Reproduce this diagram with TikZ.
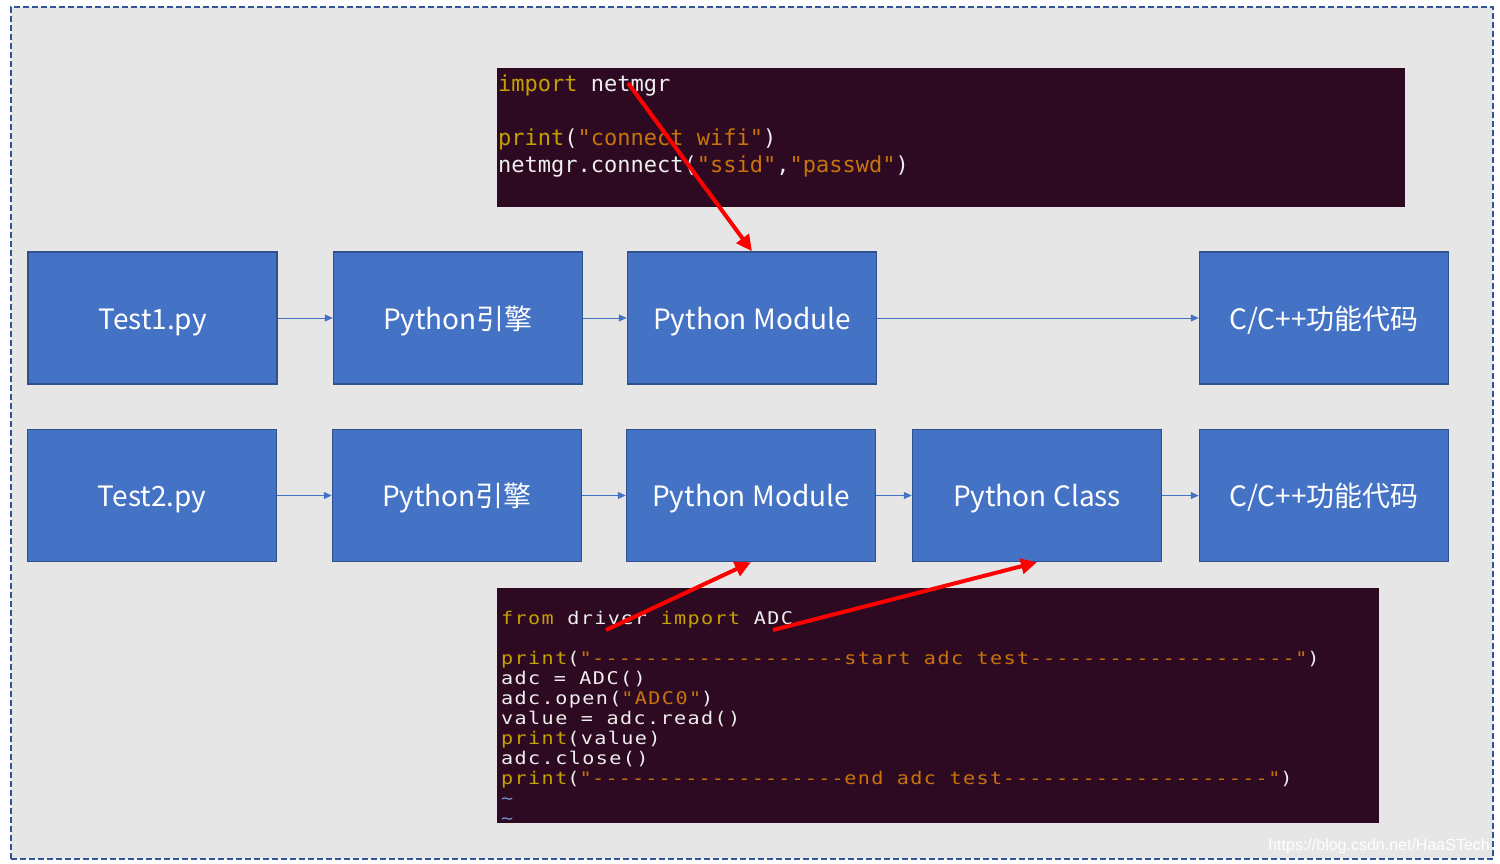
\documentclass[tikz,border=0pt]{standalone}
\usepackage{fontspec}
\usetikzlibrary{arrows.meta}
\newfontfamily\cjk{Noto Sans CJK SC}
\newfontfamily\codeA{DejaVu Sans Mono}
\newfontfamily\codeB[FakeStretch=1.15,LetterSpace=8]{DejaVu Sans Mono}
\newfontfamily\wmfont{Liberation Sans}
\definecolor{bg}{HTML}{E6E6E6}
\definecolor{frame}{HTML}{2F5597}
\definecolor{boxfill}{HTML}{4472C4}
\definecolor{boxline}{HTML}{2F528F}
\definecolor{term}{HTML}{2E0A22}
\definecolor{kw}{HTML}{C4A000}
\definecolor{st}{HTML}{C8740C}
\definecolor{tx}{HTML}{EEEEEC}
\definecolor{tl}{HTML}{6F97CE}
\newcommand\dsh[1]{\foreach \i in {1,...,#1}{\makebox[13.3pt][c]{-}}}
\newcommand\kw[1]{\textcolor{kw}{#1}}
\newcommand\st[1]{\textcolor{st}{#1}}
\begin{document}
\begin{tikzpicture}[x=1pt,y=-1pt,
  pbox/.style={draw=boxline,line width=1.5pt,fill=boxfill,minimum width=249pt,minimum height=132pt,inner sep=0pt,text height=22pt,text depth=0pt,text=white,font=\cjk\fontsize{28}{28}\selectfont},
  conn/.style={draw=boxfill,line width=1pt,-{Triangle[length=8pt,width=7pt]}},
  redarr/.style={draw=red,line width=4pt,-{Triangle[length=16pt,width=15pt]}},
  termbox/.style={fill=term,draw=none,inner sep=0pt,anchor=north west},
  lineA/.style={anchor=base west,inner sep=0pt,text=tx,font=\codeA\fontsize{22}{22}\selectfont},
  lineB/.style={anchor=base west,inner sep=0pt,text=tx,font=\codeB\fontsize{17.5}{17.5}\selectfont}]
\useasboundingbox (0,0) rectangle (1500,863);
\fill[white] (0,0) rectangle (1500,863);
\node[draw=frame,fill=bg,line width=1.5pt,dash pattern=on 6pt off 3pt,anchor=north west,minimum width=1482pt,minimum height=852pt,inner sep=0pt] (frm) at (10,6) {};

% top code
\node[termbox,minimum width=908pt,minimum height=139pt] (code1) at (497,68) {};
\node[lineA] (c1a) at (498,91) {\kw{import} netmgr};
\node[lineA] (c1b) at (498,145) {\kw{print}(\st{"connect wifi"})};
\node[lineA] (c1c) at (498,172) {netmgr.connect(\st{"ssid"},\st{"passwd"})};

% row 1
\node[pbox] (t1) at (152.5,318) {Test1.py};
\node[pbox] (e1) at (458,318) {Python引擎};
\node[pbox] (m1) at (752,318) {Python Module};
\node[pbox] (cc1) at (1324,318) {C/C++功能代码};
\draw[conn] (t1) -- (e1);
\draw[conn] (e1) -- (m1);
\draw[conn] (m1) -- (cc1);

% row 2
\node[pbox] (t2) at (152,495.5) {Test2.py};
\node[pbox] (e2) at (457,495.5) {Python引擎};
\node[pbox] (m2) at (751,495.5) {Python Module};
\node[pbox] (cls) at (1037,495.5) {Python Class};
\node[pbox] (cc2) at (1324,495.5) {C/C++功能代码};
\draw[conn] (t2) -- (e2);
\draw[conn] (e2) -- (m2);
\draw[conn] (m2) -- (cls);
\draw[conn] (cls) -- (cc2);

% bottom code
\node[termbox,minimum width=882pt,minimum height=235pt] (code2) at (497,588) {};
\begin{scope}
\clip (497,588) rectangle (1379,823);
\node[lineB] (c2a) at (501,624) {\kw{from} driver \kw{import} ADC};
\node[lineB] (c2b) at (501,664) {\kw{print}(\st{"\dsh{19}start adc test\dsh{20}"})};
\node[lineB] (c2c) at (501,684) {adc = ADC()};
\node[lineB] (c2d) at (501,704) {adc.open(\st{"ADC0"})};
\node[lineB] (c2e) at (501,724) {value = adc.read()};
\node[lineB] (c2f) at (501,744) {\kw{print}(value)};
\node[lineB] (c2g) at (501,764) {adc.close()};
\node[lineB] (c2h) at (501,784) {\kw{print}(\st{"\dsh{19}end adc test\dsh{20}"})};
\node[lineB,text=tl] (c2i) at (501,804) {\string~};
\node[lineB,text=tl] (c2j) at (501,824) {\string~};
\end{scope}

% red arrows
\coordinate (r1) at (628,83);
\coordinate (r2) at (606,630);
\coordinate (r3) at (773,630);
\draw[redarr] (r1) -- (m1.north);
\draw[redarr] (r2) -- (m2.south);
\draw[redarr] (r3) -- (cls.south);

% watermark
\node[anchor=base east,inner sep=0pt,text=white,font=\wmfont\fontsize{16}{16}\selectfont] (wm) at (1490,850) {https://blog.csdn.net/HaaSTech};
\end{tikzpicture}
\end{document}
